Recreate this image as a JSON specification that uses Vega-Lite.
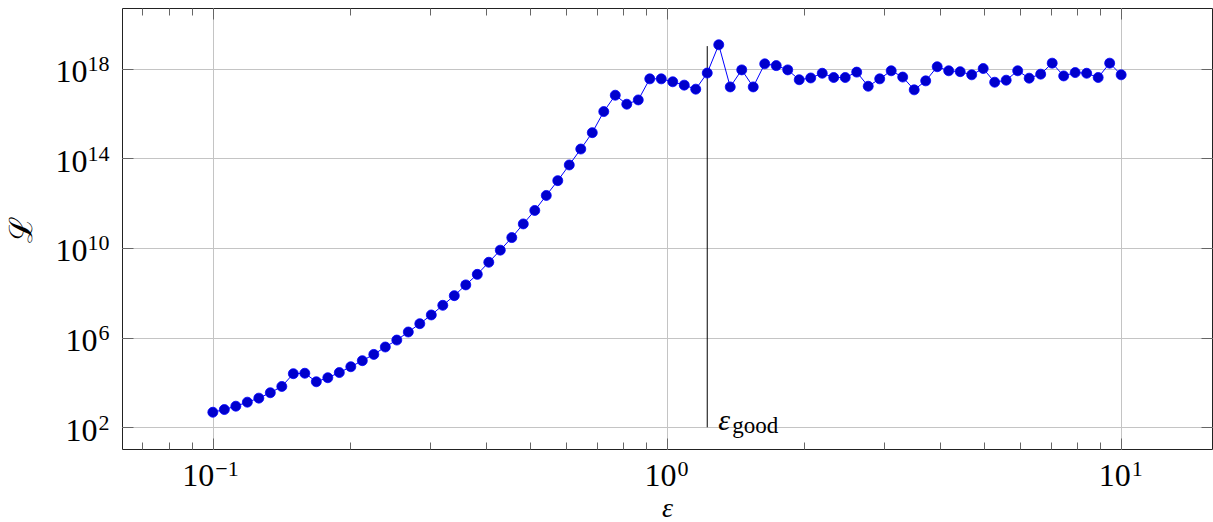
{
  "$schema": "https://vega.github.io/schema/vega-lite/v6.json",
  "width": 1090,
  "height": 441,
  "autosize": {"type": "none"},
  "padding": {"left": 122, "top": 8, "right": 1, "bottom": 73},
  "background": "white",
  "config": {
    "view": {"stroke": "#222222", "strokeWidth": 1},
    "font": "Liberation Serif",
    "axis": {
      "labelFont": "Liberation Serif",
      "labelFontSize": 32,
      "labelColor": "#000000",
      "labelFlush": false,
      "labelOverlap": false,
      "titleFont": "Liberation Serif",
      "titleColor": "#000000",
      "tickColor": "#666666",
      "tickWidth": 1,
      "gridColor": "#c4c4c4",
      "gridWidth": 1,
      "domain": false
    }
  },
  "datasets": {
    "pts": [
      {"eps": 0.1, "L": 468},
      {"eps": 0.106003, "L": 617},
      {"eps": 0.112366, "L": 871},
      {"eps": 0.119111, "L": 1318},
      {"eps": 0.12626, "L": 1995},
      {"eps": 0.133839, "L": 3467},
      {"eps": 0.141873, "L": 6607},
      {"eps": 0.150389, "L": 24547},
      {"eps": 0.159417, "L": 25704},
      {"eps": 0.168987, "L": 10715},
      {"eps": 0.17913, "L": 16218},
      {"eps": 0.189883, "L": 27542},
      {"eps": 0.201281, "L": 50119},
      {"eps": 0.213364, "L": 93325},
      {"eps": 0.226172, "L": 177828},
      {"eps": 0.239748, "L": 380189},
      {"eps": 0.25414, "L": 776247},
      {"eps": 0.269395, "L": 1.778e6},
      {"eps": 0.285566, "L": 4.169e6},
      {"eps": 0.302708, "L": 1.023e7},
      {"eps": 0.320879, "L": 2.754e7},
      {"eps": 0.340141, "L": 7.413e7},
      {"eps": 0.360559, "L": 2.239e8},
      {"eps": 0.382202, "L": 6.607e8},
      {"eps": 0.405145, "L": 2.291e9},
      {"eps": 0.429465, "L": 7.943e9},
      {"eps": 0.455245, "L": 2.884e10},
      {"eps": 0.482572, "L": 1.175e11},
      {"eps": 0.51154, "L": 4.677e11},
      {"eps": 0.542247, "L": 2.188e12},
      {"eps": 0.574797, "L": 1.0e13},
      {"eps": 0.609301, "L": 5.012e13},
      {"eps": 0.645876, "L": 2.57e14},
      {"eps": 0.684647, "L": 1.38e15},
      {"eps": 0.725745, "L": 1.202e16},
      {"eps": 0.769311, "L": 6.457e16},
      {"eps": 0.815491, "L": 2.57e16},
      {"eps": 0.864443, "L": 3.981e16},
      {"eps": 0.916334, "L": 3.467e17},
      {"eps": 0.97134, "L": 3.467e17},
      {"eps": 1.02956, "L": 2.57e17},
      {"eps": 1.09136, "L": 1.82e17},
      {"eps": 1.15687, "L": 1.202e17},
      {"eps": 1.22632, "L": 6.31e17},
      {"eps": 1.29993, "L": 1.148e19},
      {"eps": 1.37796, "L": 1.514e17},
      {"eps": 1.46068, "L": 8.71e17},
      {"eps": 1.54836, "L": 1.514e17},
      {"eps": 1.6413, "L": 1.622e18},
      {"eps": 1.73982, "L": 1.349e18},
      {"eps": 1.84426, "L": 8.71e17},
      {"eps": 1.95496, "L": 3.162e17},
      {"eps": 2.07231, "L": 3.802e17},
      {"eps": 2.19671, "L": 6.166e17},
      {"eps": 2.32857, "L": 3.981e17},
      {"eps": 2.46834, "L": 3.981e17},
      {"eps": 2.61651, "L": 6.918e17},
      {"eps": 2.77357, "L": 1.622e17},
      {"eps": 2.94006, "L": 3.467e17},
      {"eps": 3.11654, "L": 7.943e17},
      {"eps": 3.30361, "L": 4.169e17},
      {"eps": 3.50191, "L": 1.122e17},
      {"eps": 3.71211, "L": 2.818e17},
      {"eps": 3.93494, "L": 1.202e18},
      {"eps": 4.17114, "L": 7.943e17},
      {"eps": 4.42152, "L": 7.244e17},
      {"eps": 4.68693, "L": 5.248e17},
      {"eps": 4.96827, "L": 1.0e18},
      {"eps": 5.2665, "L": 2.455e17},
      {"eps": 5.58263, "L": 3.02e17},
      {"eps": 5.91774, "L": 7.943e17},
      {"eps": 6.27296, "L": 3.715e17},
      {"eps": 6.64951, "L": 5.623e17},
      {"eps": 7.04866, "L": 1.738e18},
      {"eps": 7.47177, "L": 4.677e17},
      {"eps": 7.92028, "L": 6.607e17},
      {"eps": 8.39571, "L": 6.166e17},
      {"eps": 8.89968, "L": 3.981e17},
      {"eps": 9.4339, "L": 1.738e18},
      {"eps": 10.0, "L": 5.248e17}
    ],
    "ann": [
      {"eps": 1.22632, "L0": 100, "L1": 1e19, "sym": "ε", "sub": "good"}
    ]
  },
  "layer": [
    {
      "data": {"name": "ann"},
      "mark": {"type": "rule", "color": "#000000", "strokeWidth": 1},
      "encoding": {
        "x": {
          "field": "eps", "type": "quantitative",
          "scale": {"type": "log", "domain": [0.0630957, 15.8489], "nice": false},
          "axis": {"orient": "top", "values": [0.1, 1, 10], "labels": false, "grid": false, "ticks": true, "tickSize": -11, "title": null}
        },
        "y": {
          "field": "L0", "type": "quantitative",
          "scale": {"type": "log", "domain": [10.74, 5.012e20], "nice": false},
          "axis": {"orient": "left", "values": [100, 1e6, 1e10, 1e14, 1e18], "labels": false, "grid": false, "ticks": true, "tickSize": -11, "title": null}
        },
        "y2": {"field": "L1"}
      }
    },
    {
      "data": {"name": "pts"},
      "mark": {"type": "line", "color": "#0000ff", "strokeWidth": 1},
      "encoding": {
        "x": {
          "field": "eps", "type": "quantitative",
          "scale": {"type": "log", "domain": [0.0630957, 15.8489], "nice": false},
          "axis": {
            "orient": "bottom", "values": [0.1, 1, 10], "ticks": false, "grid": true,
            "labelExpr": "'10'",
            "labelAlign": "right", "labelBaseline": "alphabetic", "labelPadding": 36,
            "labelOffset": {"condition": {"test": "datum.value < 0.5", "value": 1}, "value": 9},
            "title": "ε", "titleFontSize": 28, "titleFontWeight": "normal", "titleFontStyle": "italic",
            "titleBaseline": "bottom", "titlePadding": 31
          }
        },
        "y": {
          "field": "L", "type": "quantitative",
          "scale": {"type": "log", "domain": [10.74, 5.012e20], "nice": false},
          "axis": {
            "orient": "left", "values": [100, 1e6, 1e10, 1e14, 1e18], "ticks": false, "grid": true,
            "labelExpr": "'10'",
            "labelAlign": "right", "labelBaseline": "alphabetic", "labelOffset": 13,
            "labelPadding": {"condition": {"test": "datum.value >= 1e9", "value": 35}, "value": 25},
            "title": "ℒ", "titleFontSize": 32, "titleFontWeight": "normal", "titlePadding": 17
          }
        }
      }
    },
    {
      "data": {"name": "pts"},
      "mark": {"type": "circle", "size": 100, "fill": "#0000cc", "stroke": "#0000ff", "strokeWidth": 0.8, "opacity": 1},
      "encoding": {
        "x": {
          "field": "eps", "type": "quantitative",
          "scale": {"type": "log", "domain": [0.0630957, 15.8489], "nice": false},
          "axis": {"orient": "bottom", "values": [0.07, 0.08, 0.09, 0.2, 0.3, 0.4, 0.5, 0.6, 0.7, 0.8, 0.9, 2, 3, 4, 5, 6, 7, 8, 9], "labels": false, "grid": false, "ticks": true, "tickSize": -7, "title": null}
        },
        "y": {
          "field": "L", "type": "quantitative",
          "scale": {"type": "log", "domain": [10.74, 5.012e20], "nice": false},
          "axis": {"orient": "right", "values": [100, 1e6, 1e10, 1e14, 1e18], "labels": false, "grid": false, "ticks": true, "tickSize": -11, "title": null}
        }
      }
    },
    {
      "data": {"name": "ann"},
      "mark": {"type": "text", "align": "left", "baseline": "alphabetic", "dx": 11, "dy": 3, "fontSize": 30, "fontStyle": "italic", "font": "Liberation Serif", "color": "#000000"},
      "encoding": {
        "x": {
          "field": "eps", "type": "quantitative",
          "scale": {"type": "log", "domain": [0.0630957, 15.8489], "nice": false},
          "axis": {"orient": "top", "values": [0.07, 0.08, 0.09, 0.2, 0.3, 0.4, 0.5, 0.6, 0.7, 0.8, 0.9, 2, 3, 4, 5, 6, 7, 8, 9], "labels": false, "grid": false, "ticks": true, "tickSize": -7, "title": null}
        },
        "y": {
          "field": "L0", "type": "quantitative",
          "scale": {"type": "log", "domain": [10.74, 5.012e20], "nice": false},
          "axis": {
            "orient": "left", "values": [100, 1e6, 1e10, 1e14, 1e18], "ticks": false, "grid": false,
            "labelExpr": "datum.value < 1e4 ? '2' : datum.value < 1e8 ? '6' : datum.value < 1e12 ? '10' : datum.value < 1e16 ? '14' : '18'",
            "labelFontSize": 22, "labelAlign": "right", "labelBaseline": "alphabetic", "labelOffset": 2, "labelPadding": 13,
            "title": null
          }
        },
        "text": {"field": "sym"}
      }
    },
    {
      "data": {"name": "ann"},
      "mark": {"type": "text", "align": "left", "baseline": "alphabetic", "dx": 25, "dy": 6, "fontSize": 23, "font": "Liberation Serif", "color": "#000000"},
      "encoding": {
        "x": {
          "field": "eps", "type": "quantitative",
          "scale": {"type": "log", "domain": [0.0630957, 15.8489], "nice": false},
          "axis": {"orient": "bottom", "values": [0.1, 1, 10], "labels": false, "grid": false, "ticks": true, "tickSize": -11, "title": null}
        },
        "y": {"field": "L0", "type": "quantitative", "scale": {"type": "log", "domain": [10.74, 5.012e20], "nice": false}, "axis": null},
        "text": {"field": "sub"}
      }
    },
    {
      "data": {"name": "ann"},
      "mark": {"type": "text", "text": ""},
      "encoding": {
        "x": {
          "field": "eps", "type": "quantitative",
          "scale": {"type": "log", "domain": [0.0630957, 15.8489], "nice": false},
          "axis": {
            "orient": "bottom", "values": [0.1, 1, 10], "ticks": false, "grid": false,
            "labelExpr": "datum.value < 0.5 ? '−1' : datum.value < 5 ? '0' : '1'",
            "labelFontSize": 22, "labelAlign": "left", "labelBaseline": "alphabetic", "labelPadding": 26,
            "labelOffset": {"condition": {"test": "datum.value < 0.5", "value": 2}, "value": 10},
            "title": null
          }
        },
        "y": {"field": "L0", "type": "quantitative", "scale": {"type": "log", "domain": [10.74, 5.012e20], "nice": false}, "axis": null}
      }
    }
  ],
  "resolve": {"axis": {"x": "independent", "y": "independent"}}
}
